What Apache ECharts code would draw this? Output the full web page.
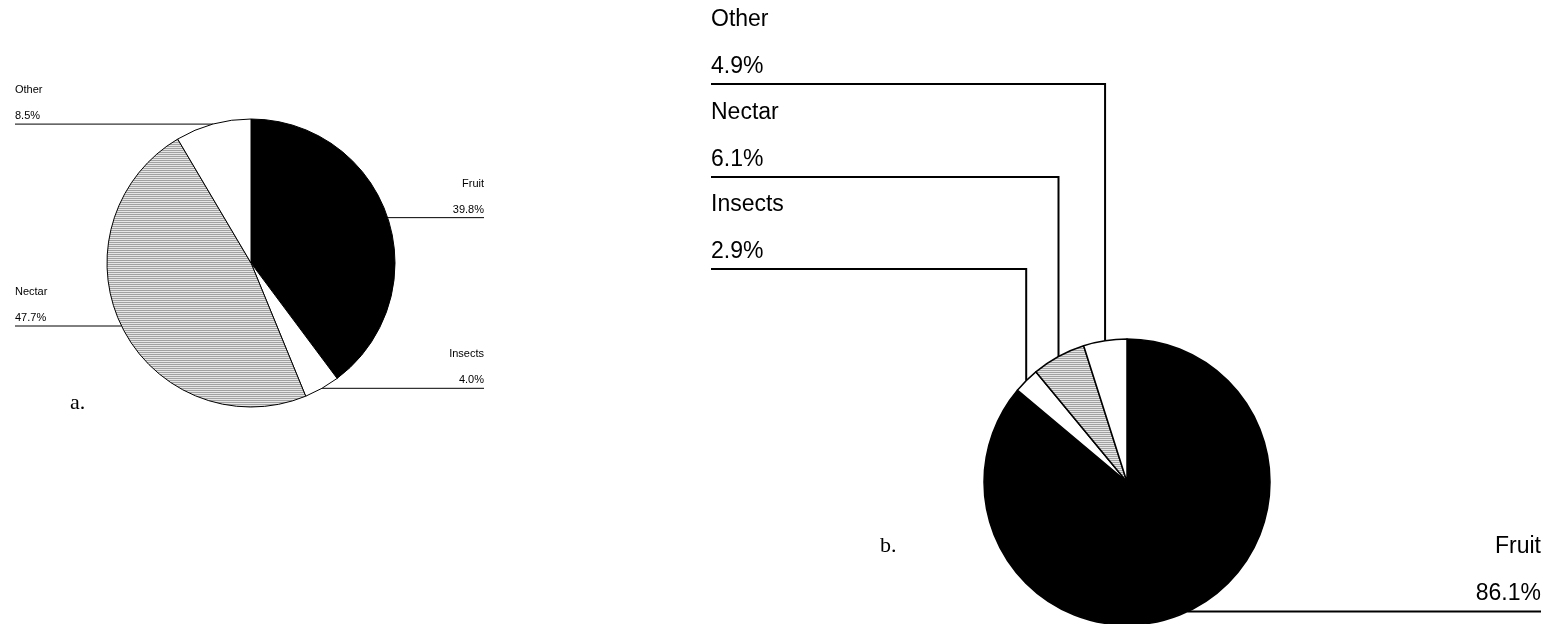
<!DOCTYPE html>
<html>
<head>
<meta charset="utf-8">
<style>
  html, body { margin: 0; padding: 0; background: #fff; }
  #main { width: 1557px; height: 624px; }
</style>
<script src="https://cdn.jsdelivr.net/npm/echarts@6/dist/echarts.min.js"></script>
</head>
<body>
<div id="main"></div>
<script>
// diet composition, percent of records
var categories = ["Fruit", "Insects", "Nectar", "Other"];
var valuesA = [39.8, 4.0, 47.7, 8.5];
var valuesB = [86.1, 2.9, 6.1, 4.9];
var panelNames = ["a.", "b."];

// horizontal line pattern for the nectar slice
function linePattern() {
  var c = document.createElement("canvas");
  c.width = 4;
  c.height = 2;
  var ctx = c.getContext("2d");
  ctx.fillStyle = "#e6e6e6";
  ctx.fillRect(0, 0, 4, 2);
  ctx.fillStyle = "#a2a2a2";
  ctx.fillRect(0, 0, 4, 1);
  return c;
}
var nectarFill = { image: linePattern(), repeat: "repeat" };
var sliceColors = ["#000", "#fff", nectarFill, "#fff"];

function buildData(values) {
  return categories.map(function (name, i) {
    return { name: name, value: values[i], itemStyle: { color: sliceColors[i] } };
  });
}

function fmt(p) {
  return p.name + "\n" + p.value.toFixed(1) + "%";
}

// panel a: straight leaders
var pieA = { cx: 251, cy: 263, r: 144 };
var layoutA = {
  Fruit:   { side: "right", edge: 484, lineY: null },
  Insects: { side: "right", edge: 484, lineY: null },
  Nectar:  { side: "left",  edge: 15,  lineY: 326 },
  Other:   { side: "left",  edge: 15,  lineY: null }
};
// panel b: elbow leaders stacked at the top left
var pieB = { cx: 1127, cy: 482, r: 143 };
var layoutB = {
  Fruit:   { side: "right", edge: 1541, lineY: null },
  Insects: { side: "left",  edge: 711,  lineY: 269 },
  Nectar:  { side: "left",  edge: 711,  lineY: 177 },
  Other:   { side: "left",  edge: 711,  lineY: 84 }
};

function layoutForA(params) {
  var cfg = layoutA[categories[params.dataIndex]];
  var p0 = params.labelLinePoints[0];
  var start = p0;
  var y = p0[1];
  if (cfg.lineY != null) {
    y = cfg.lineY;
    var dx = Math.sqrt(pieA.r * pieA.r - (y - pieA.cy) * (y - pieA.cy));
    start = [cfg.side === "left" ? pieA.cx - dx : pieA.cx + dx, y];
  }
  return {
    x: cfg.edge,
    y: y - 21,
    align: cfg.side === "left" ? "left" : "right",
    verticalAlign: "middle",
    labelLinePoints: [start, [cfg.edge, y]]
  };
}

function layoutForB(params) {
  var cfg = layoutB[categories[params.dataIndex]];
  var p0 = params.labelLinePoints[0];
  var pts;
  var y;
  if (cfg.lineY != null) {
    y = cfg.lineY;
    pts = [p0, [p0[0], y], [cfg.edge, y]];
  } else {
    y = p0[1];
    pts = [p0, [cfg.edge, y]];
  }
  return {
    x: cfg.edge,
    y: y - 41,
    align: cfg.side === "left" ? "left" : "right",
    verticalAlign: "middle",
    labelLinePoints: pts
  };
}

var myChart = echarts.init(document.getElementById("main"));
var option = {
  backgroundColor: "#fff",
  animation: false,
  graphic: [
    {
      type: "text", left: 70, top: 392,
      style: { text: panelNames[0], font: "22px 'Liberation Serif', 'Times New Roman', serif", fill: "#000" }
    },
    {
      type: "text", left: 880, top: 535,
      style: { text: panelNames[1], font: "22px 'Liberation Serif', 'Times New Roman', serif", fill: "#000" }
    }
  ],
  series: [
    {
      type: "pie",
      center: [pieA.cx, pieA.cy],
      radius: pieA.r,
      startAngle: 90,
      clockwise: true,
      avoidLabelOverlap: false,
      silent: true,
      itemStyle: { borderColor: "#000", borderWidth: 1 },
      label: {
        show: true,
        position: "outside",
        formatter: fmt,
        fontFamily: "'Liberation Sans', Arial, sans-serif",
        fontSize: 11,
        lineHeight: 26,
        color: "#000"
      },
      labelLine: { show: true, length: 10, length2: 10, lineStyle: { color: "#000", width: 1 } },
      labelLayout: layoutForA,
      emphasis: { disabled: true },
      data: buildData(valuesA)
    },
    {
      type: "pie",
      center: [pieB.cx, pieB.cy],
      radius: pieB.r,
      startAngle: 90,
      clockwise: true,
      avoidLabelOverlap: false,
      silent: true,
      itemStyle: { borderColor: "#000", borderWidth: 1.5 },
      label: {
        show: true,
        position: "outside",
        formatter: fmt,
        fontFamily: "'Liberation Sans', Arial, sans-serif",
        fontSize: 23,
        lineHeight: 47,
        color: "#000"
      },
      labelLine: { show: true, length: 10, length2: 10, lineStyle: { color: "#000", width: 2 } },
      labelLayout: layoutForB,
      emphasis: { disabled: true },
      data: buildData(valuesB)
    }
  ]
};
myChart.setOption(option);
</script>
</body>
</html>
